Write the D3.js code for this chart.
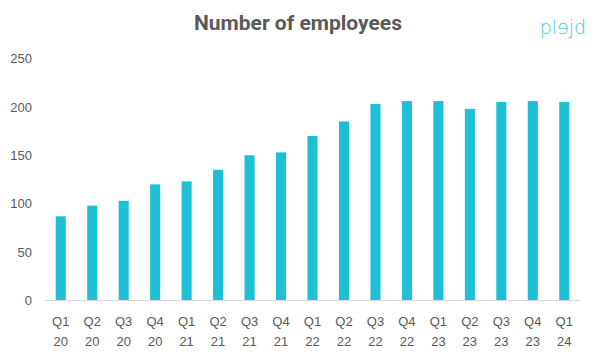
<!DOCTYPE html>
<html><head><meta charset="utf-8">
<script src="https://cdn.jsdelivr.net/npm/d3@7"></script>
<style>html,body{margin:0;padding:0;background:#fff;}</style>
</head><body>
<svg id="c" width="594" height="356"></svg>
<script>
const quarters = ["Q1","Q2","Q3","Q4","Q1","Q2","Q3","Q4","Q1","Q2","Q3","Q4","Q1","Q2","Q3","Q4","Q1"];
const years = ["20","20","20","20","21","21","21","21","22","22","22","22","23","23","23","23","24"];
const employees = [87,98,103,120,123,135,150,153,170,185,203,206,206,198,205,206,205];
const yTicks = [0,50,100,150,200,250];

(function(){
const svg = d3.select("#c");
const mLeft = 45, mRight = 580, mTop = 58.5, mBottom = 300.5;
const cats = quarters.map((q,i)=>i);
const x = d3.scaleBand().domain(cats).range([mLeft,mRight]).paddingInner(0.68).paddingOuter(0.34);
const y = d3.scaleLinear().domain([0,250]).range([mBottom,mTop]);

svg.append("text").attr("x",298).attr("y",30).attr("text-anchor","middle")
  .attr("font-family","Roboto, 'Open Sans', sans-serif").attr("font-weight","bold")
  .attr("font-size",21).attr("fill","#595959").text("Number of employees");

svg.append("text").attr("x",563).attr("y",34).attr("text-anchor","middle")
  .attr("font-family","'DejaVu Sans', sans-serif").attr("font-weight","300")
  .attr("font-size",19).attr("fill","#46c6d3").text("plɘjd");

const yAxis = d3.axisLeft(y).tickValues(yTicks).tickSize(0).tickPadding(0);
const ya = svg.append("g").attr("transform",`translate(32,0)`).call(yAxis);
ya.select(".domain").remove();
ya.selectAll("text").attr("font-family","'Liberation Sans', Arial, sans-serif").attr("font-size",13).attr("fill","#595959");

svg.append("g").selectAll("rect").data(employees).join("rect")
  .attr("x",(d,i)=>x(i)).attr("width",x.bandwidth())
  .attr("y",d=>y(d)).attr("height",d=>y(0)-y(d)).attr("fill","#1dc0d4");

svg.append("line").attr("x1",mLeft).attr("x2",mRight).attr("y1",y(0)).attr("y2",y(0))
  .attr("stroke","#d9d9d9").attr("stroke-width",1);

const xAxis = d3.axisBottom(x).tickSize(0).tickFormat(()=>"");
const xa = svg.append("g").attr("transform",`translate(0,${y(0)})`).call(xAxis);
xa.select(".domain").remove();
xa.selectAll(".tick text").each(function(d){
  const t = d3.select(this).attr("y",null).attr("dy",null)
    .attr("font-family","'Liberation Sans', Arial, sans-serif").attr("font-size",13).attr("fill","#595959");
  t.append("tspan").attr("x",0).attr("y",25).text(quarters[d]);
  t.append("tspan").attr("x",0).attr("y",45).text(years[d]);
});
})();
</script>
</body></html>
